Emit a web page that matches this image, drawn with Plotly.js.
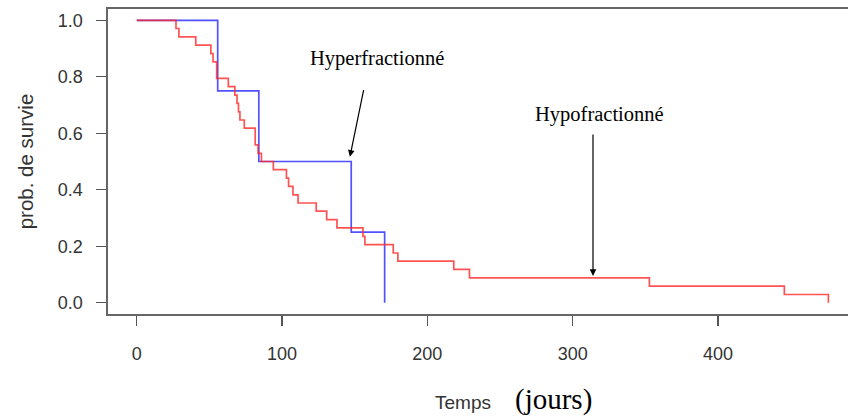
<!DOCTYPE html>
<html>
<head>
<meta charset="utf-8">
<script src="https://cdn.plot.ly/plotly-3.0.1.min.js"></script>
<style>html,body{margin:0;padding:0;background:#fff;}#chart{width:848px;height:418px;}</style>
</head>
<body>
<div id="chart"></div>
<script>
// Hypofractionné (red) Kaplan-Meier steps: times (days) and survival probability
var hypoTimes = [0, 27, 29, 40.6, 51, 52.5, 55, 63, 67.5, 69, 70, 71, 74, 81.5, 83.5, 85.8, 94, 103, 104.5, 107.5, 111, 123.5, 130.7, 137.8, 155.7, 157, 176.5, 179.7, 218.2, 229, 352.8, 445.7, 476];
var hypoSurv  = [1, 0.971, 0.941, 0.912, 0.882, 0.853, 0.794, 0.765, 0.735, 0.706, 0.676, 0.647, 0.618, 0.559, 0.529, 0.5, 0.471, 0.441, 0.412, 0.382, 0.353, 0.324, 0.294, 0.265, 0.235, 0.206, 0.176, 0.147, 0.118, 0.088, 0.059, 0.029, 0];

// Hyperfractionné (blue)
var hyperTimes = [0, 55.7, 84, 147.6, 170.6];
var hyperSurv  = [1, 0.75, 0.5, 0.25, 0];

var xTicks = [0, 100, 200, 300, 400];
var yTicks = [0, 0.2, 0.4, 0.6, 0.8, 1.0];
var yTickText = ['0.0', '0.2', '0.4', '0.6', '0.8', '1.0'];

var traces = [
  {x: hyperTimes, y: hyperSurv, mode: 'lines', line: {shape: 'hv', color: 'rgba(50,50,255,0.85)', width: 1.7}, hoverinfo: 'x+y', name: 'Hyperfractionné'},
  {x: hypoTimes, y: hypoSurv, mode: 'lines', line: {shape: 'hv', color: 'rgba(255,40,40,0.8)', width: 1.7}, hoverinfo: 'x+y', name: 'Hypofractionné'}
];

var axisFont = {family: 'Liberation Sans, Arial, sans-serif', size: 18, color: '#333'};
var serif = 'Liberation Serif, Times New Roman, serif';

var layout = {
  width: 848, height: 418,
  margin: {l: 108, r: 0, t: 9, b: 104},
  paper_bgcolor: '#fff', plot_bgcolor: '#fff',
  showlegend: false,
  xaxis: {
    range: [-19.8, 489.5], tickvals: xTicks, ticktext: xTicks.map(String),
    showgrid: false, zeroline: false, showline: true, mirror: true,
    linecolor: '#666', linewidth: 1.6,
    ticks: 'outside', ticklen: 10, tickcolor: '#555', tickwidth: 1.2,
    tickfont: axisFont, ticklabelstandoff: 13
  },
  yaxis: {
    range: [-0.04, 1.04], tickvals: yTicks, ticktext: yTickText,
    showgrid: false, zeroline: false, showline: true, mirror: false,
    linecolor: '#666', linewidth: 1.6,
    ticks: 'outside', ticklen: 10, tickcolor: '#555', tickwidth: 1.2,
    tickfont: axisFont, ticklabelstandoff: 10,
    title: {text: 'prob. de survie', font: {family: 'Liberation Sans, Arial, sans-serif', size: 20.5, color: '#333'}, standoff: 18}
  },
  annotations: [
    {xref: 'paper', yref: 'paper', x: (463 - 108) / 740, y: -(402 - 314) / 305, text: 'Temps', showarrow: false,
     font: {family: 'Liberation Sans, Arial, sans-serif', size: 19, color: '#333'}, xanchor: 'center', yanchor: 'middle'},
    {xref: 'paper', yref: 'paper', x: (553 - 108) / 740, y: -(399 - 314) / 305, text: '(jours)', showarrow: false,
     font: {family: serif, size: 29, color: '#000'}, xanchor: 'center', yanchor: 'middle'},
    {x: 165.3, y: 0.864, text: 'Hyperfractionné', showarrow: false,
     font: {family: serif, size: 20.5, color: '#000'}},
    {x: 146.7, y: 0.517, ax: 14, ay: -68, text: '', showarrow: true,
     arrowhead: 2, arrowsize: 1.1, arrowwidth: 1.2, arrowcolor: '#000'},
    {x: 318.8, y: 0.666, text: 'Hypofractionné', showarrow: false,
     font: {family: serif, size: 20.5, color: '#000'}},
    {x: 314, y: 0.095, ax: 0, ay: -143, text: '', showarrow: true,
     arrowhead: 2, arrowsize: 1.1, arrowwidth: 1.2, arrowcolor: '#000'}
  ]
};

Plotly.newPlot('chart', traces, layout, {displayModeBar: false, staticPlot: true});
</script>
</body>
</html>
